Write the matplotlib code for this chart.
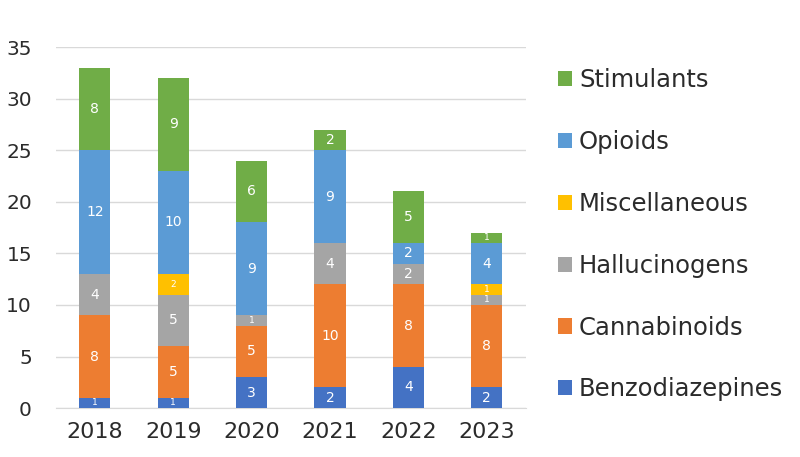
import matplotlib
matplotlib.use("Agg")
import matplotlib.pyplot as plt
import numpy as np

plt.rcParams['font.family'] = ['DejaVu Sans']

# === Data ===
years = ["2018", "2019", "2020", "2021", "2022", "2023"]
benzodiazepines = [1, 1, 3, 2, 4, 2]
cannabinoids = [8, 5, 5, 10, 8, 8]
hallucinogens = [4, 5, 1, 4, 2, 1]
miscellaneous = [0, 2, 0, 0, 0, 1]
opioids = [12, 10, 9, 9, 2, 4]
stimulants = [8, 9, 6, 2, 5, 1]

series = [
    ("Benzodiazepines", benzodiazepines, "#4472C4"),
    ("Cannabinoids", cannabinoids, "#ED7D31"),
    ("Hallucinogens", hallucinogens, "#A5A5A5"),
    ("Miscellaneous", miscellaneous, "#FFC000"),
    ("Opioids", opioids, "#5B9BD5"),
    ("Stimulants", stimulants, "#70AD47"),
]

TEXT = "#2b2b2b"

fig = plt.figure(figsize=(8, 4.57), dpi=100)
ax = fig.add_axes([0.0695, 0.107, 0.588, 0.79])

x = np.arange(len(years))
bottom = np.zeros(len(years))
handles = []
for name, vals, color in series:
    vals = np.array(vals, dtype=float)
    bars = ax.bar(x, vals, 0.4, bottom=bottom, color=color, label=name, zorder=3)
    handles.append(bars)
    for i, v in enumerate(vals):
        if v <= 0:
            continue
        small = v <= 1 or name == "Miscellaneous"
        ax.text(x[i], bottom[i] + v / 2, f"{int(v)}", ha="center", va="center",
                color="white", fontsize=6.5 if small else 10, zorder=4)
    bottom += vals

ax.set_ylim(0, 35)
ax.set_xlim(-0.5, len(years) - 0.5)
ax.set_yticks(range(0, 36, 5))
ax.set_xticks(x)
ax.set_xticklabels(years)
ax.tick_params(axis="y", length=0, labelsize=14.5, labelcolor=TEXT, pad=17)
ax.tick_params(axis="x", length=0, labelsize=16, labelcolor=TEXT, pad=10)
ax.grid(axis="y", color="#D9D9D9", linewidth=1, zorder=0)
for s in ["top", "right", "left"]:
    ax.spines[s].set_visible(False)
ax.spines["bottom"].set_color("#D9D9D9")

# === Legend ===
leg = fig.legend(handles[::-1], [s[0] for s in series][::-1],
                 loc="upper left", bbox_to_anchor=(0.67, 0.898),
                 frameon=False, fontsize=17.5, labelspacing=1.554,
                 handlelength=0.58, handleheight=0.58, handletextpad=0.29)
for t in leg.get_texts():
    t.set_color(TEXT)

fig.savefig("out.png", dpi=100)
